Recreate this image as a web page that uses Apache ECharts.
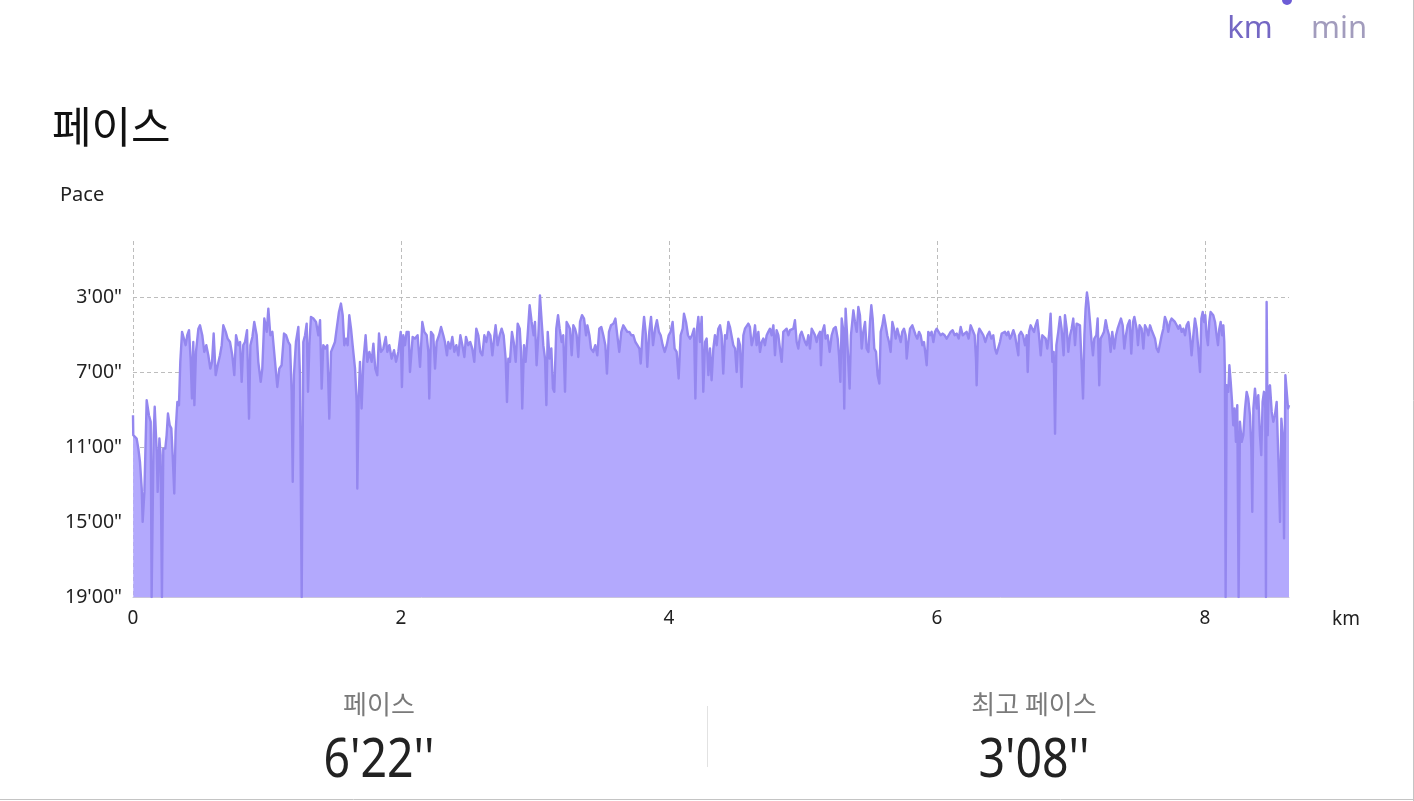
<!DOCTYPE html>
<html>
<head>
<meta charset="utf-8">
<script src="https://cdn.jsdelivr.net/npm/echarts@6/dist/echarts.min.js"></script>
<style>
html,body{margin:0;padding:0;background:#fff;}
#chart{width:1414px;height:801px;}
</style>
</head>
<body>
<div id="chart"></div>
<script>
// Pace samples: [distance km, pace in minutes per km]
var seg1 = [[0,9.30],[0.002,10.36],[0.027,10.54],[0.040,11.08],[0.052,11.79],[0.065,13.20],[0.072,14.99],[0.085,13.39],[0.102,8.50],[0.119,9.30],[0.132,9.65],[0.139,19.00],[0.147,19.00],[0.154,10.36],[0.162,8.85],[0.177,11.25],[0.184,13.39],[0.197,10.54],[0.206,11.43],[0.216,19.00],[0.226,11.08],[0.241,11.08],[0.251,10.36],[0.261,9.21],[0.274,9.83],[0.286,10.00],[0.296,11.43],[0.308,13.48],[0.318,10.19],[0.331,8.59],[0.343,8.76],[0.353,6.45],[0.366,4.85],[0.378,4.76],[0.393,5.56],[0.405,5.03],[0.418,4.76],[0.430,6.28],[0.440,8.41],[0.450,5.39],[0.458,8.76],[0.470,5.92],[0.488,4.68],[0.500,4.50],[0.517,5.03],[0.532,5.92],[0.547,5.56],[0.562,6.10],[0.577,6.81],[0.590,6.45],[0.602,4.94],[0.617,7.16],[0.632,6.63],[0.649,6.10],[0.662,5.56],[0.674,4.50],[0.692,4.85],[0.706,5.21],[0.724,5.39],[0.741,6.10],[0.756,7.16],[0.769,5.03],[0.786,5.56],[0.799,5.39],[0.811,7.52],[0.823,5.56],[0.836,5.39],[0.851,4.76],[0.866,9.48],[0.876,5.56],[0.891,5.12],[0.905,4.32],[0.923,5.03],[0.935,6.45],[0.953,7.52],[0.965,6.81],[0.980,4.14],[0.998,4.85],[1.010,3.61],[1.025,5.03],[1.040,4.85]];
var seg2 = [[1.052,4.76],[1.077,7.79],[1.092,6.81],[1.109,6.63],[1.127,4.94],[1.142,5.03],[1.159,5.39],[1.172,5.56],[1.184,8.05],[1.192,12.85],[1.201,7.16],[1.216,5.39],[1.234,4.59],[1.246,7.16],[1.259,19.00],[1.271,5.39],[1.284,5.03],[1.296,4.41],[1.306,8.05],[1.316,5.56],[1.328,4.05],[1.346,4.14],[1.366,4.32],[1.383,5.03],[1.396,4.23],[1.408,7.88],[1.420,5.56],[1.435,5.74],[1.450,5.56],[1.465,9.48],[1.478,5.92],[1.490,5.92],[1.507,5.39],[1.520,4.68],[1.537,3.79],[1.552,3.34],[1.565,3.96],[1.577,5.56],[1.590,5.21],[1.602,5.56],[1.614,3.96],[1.627,4.68],[1.639,5.56],[1.657,6.81],[1.669,8.59],[1.674,13.21],[1.684,8.41],[1.694,6.45],[1.706,8.94],[1.719,6.45],[1.736,5.03],[1.749,6.45],[1.764,5.92],[1.781,6.45],[1.794,5.48],[1.808,6.81],[1.823,7.16],[1.836,4.94],[1.851,5.92],[1.868,5.74],[1.886,5.12],[1.898,5.92],[1.913,5.56],[1.930,6.28],[1.948,5.83],[1.963,6.45],[1.980,5.92],[1.998,4.85],[2.007,7.79],[2.017,5.03],[2.030,5.56],[2.042,4.85],[2.057,4.85],[2.067,6.99],[2.087,5.12],[2.104,5.21]];
var seg3 = [[2.124,5.03],[2.142,6.72],[2.159,4.32],[2.174,4.85],[2.192,5.03],[2.204,5.92],[2.211,8.41],[2.224,4.85],[2.241,5.03],[2.254,6.81],[2.266,5.39],[2.284,5.03],[2.299,4.59],[2.316,5.03],[2.328,5.39],[2.343,6.10],[2.353,5.39],[2.368,5.74],[2.383,5.12],[2.398,5.92],[2.413,5.56],[2.428,6.10],[2.443,5.03],[2.458,5.56],[2.473,6.19],[2.485,5.12],[2.502,5.56],[2.517,5.39],[2.532,5.74],[2.547,6.45],[2.562,4.68],[2.577,5.03],[2.592,5.92],[2.607,6.10],[2.622,5.03],[2.637,5.39],[2.652,4.85],[2.667,5.03],[2.682,6.10],[2.697,5.03],[2.706,4.50],[2.721,5.56],[2.736,5.03],[2.751,4.68],[2.766,5.03],[2.781,6.28],[2.791,8.59],[2.801,6.28],[2.813,6.45],[2.828,4.85],[2.841,5.39],[2.856,6.45],[2.871,4.41],[2.886,4.68],[2.896,5.92],[2.905,8.94],[2.918,5.56],[2.930,6.45],[2.945,5.03],[2.960,3.43],[2.975,4.32],[2.990,5.03],[3.000,4.32],[3.012,6.63],[3.025,5.03],[3.037,2.90],[3.050,4.32],[3.062,5.56],[3.075,6.28],[3.085,8.76],[3.095,4.85],[3.109,6.28],[3.122,5.74],[3.134,7.88],[3.144,8.05],[3.159,4.68],[3.172,3.96],[3.184,4.68],[3.199,5.39]];
var seg4 = [[3.211,5.03],[3.224,8.05],[3.236,4.32],[3.249,4.50],[3.261,4.68],[3.274,6.10],[3.286,4.50],[3.299,4.68],[3.311,5.03],[3.323,6.19],[3.336,4.32],[3.351,3.96],[3.366,4.14],[3.381,5.03],[3.391,4.50],[3.406,5.03],[3.418,5.74],[3.435,5.92],[3.450,5.56],[3.465,6.10],[3.480,4.68],[3.495,4.59],[3.510,5.03],[3.525,5.56],[3.537,7.08],[3.552,4.85],[3.567,4.50],[3.585,4.41],[3.600,4.14],[3.614,5.03],[3.629,5.92],[3.644,4.85],[3.659,4.50],[3.674,4.68],[3.689,4.85],[3.704,4.85],[3.719,5.03],[3.734,5.03],[3.749,5.39],[3.764,5.56],[3.779,5.74],[3.789,6.54],[3.804,4.85],[3.814,4.05],[3.828,5.03],[3.838,6.72],[3.853,4.85],[3.866,4.05],[3.881,5.56],[3.896,4.68],[3.910,4.23],[3.925,4.85],[3.938,5.03],[3.953,5.56],[3.968,5.92],[3.983,5.56],[3.998,5.03],[4.012,4.85],[4.027,4.32],[4.042,5.74],[4.057,5.92],[4.072,7.34],[4.087,5.03],[4.102,4.68],[4.112,3.88],[4.127,4.32],[4.142,5.03],[4.157,5.21],[4.172,5.03],[4.187,4.68],[4.197,8.41],[4.207,4.85],[4.219,4.05],[4.231,5.39],[4.244,4.05],[4.256,8.05],[4.269,5.39]];
var seg5 = [[4.281,5.21],[4.294,7.16],[4.306,5.74],[4.318,7.43],[4.331,5.74],[4.343,5.03],[4.356,5.56],[4.368,4.68],[4.381,4.50],[4.393,5.03],[4.405,7.08],[4.418,5.03],[4.430,5.21],[4.443,4.32],[4.455,4.59],[4.468,4.68],[4.480,5.56],[4.493,5.74],[4.505,6.99],[4.517,5.21],[4.530,5.56],[4.542,7.79],[4.555,5.03],[4.567,4.68],[4.580,4.59],[4.592,4.41],[4.604,4.59],[4.617,5.56],[4.629,5.21],[4.642,4.50],[4.654,5.56],[4.667,4.85],[4.679,5.92],[4.692,5.39],[4.704,5.21],[4.716,5.56],[4.729,5.03],[4.741,4.85],[4.754,4.68],[4.766,5.03],[4.779,4.50],[4.791,6.10],[4.803,4.76],[4.816,5.03],[4.828,5.74],[4.841,6.45],[4.853,4.85],[4.866,4.85],[4.878,4.68],[4.891,5.03],[4.903,4.76],[4.915,4.85],[4.928,4.68],[4.940,4.23],[4.953,5.39],[4.965,5.74],[4.978,5.03],[4.990,4.85],[5.002,4.76],[5.015,5.39],[5.027,5.56],[5.040,5.03],[5.052,5.74],[5.065,4.68],[5.077,4.85],[5.090,5.03],[5.102,5.39],[5.114,5.03],[5.127,4.85],[5.134,6.63],[5.144,4.85],[5.159,4.50],[5.169,5.21],[5.184,5.03],[5.199,5.92],[5.214,5.03],[5.229,4.68],[5.244,4.59],[5.259,5.21],[5.269,6.10],[5.279,7.52],[5.289,4.14],[5.299,4.68],[5.308,8.94],[5.318,3.61],[5.328,4.85],[5.338,6.45],[5.348,7.88],[5.358,5.03]];
var seg6 = [[5.376,3.70],[5.388,4.32],[5.401,4.85],[5.413,3.52],[5.425,3.96],[5.438,5.74],[5.450,4.85],[5.463,4.32],[5.475,5.74],[5.488,5.92],[5.500,4.32],[5.510,3.43],[5.520,4.14],[5.532,5.74],[5.545,5.92],[5.557,7.16],[5.570,7.61],[5.580,4.85],[5.592,4.50],[5.604,3.96],[5.617,4.50],[5.629,5.03],[5.642,5.39],[5.654,5.92],[5.667,4.32],[5.679,4.68],[5.692,5.21],[5.704,4.68],[5.716,5.03],[5.729,5.39],[5.741,4.85],[5.754,4.68],[5.766,5.03],[5.774,6.28],[5.786,5.39],[5.799,4.68],[5.816,4.50],[5.828,4.41],[5.841,5.03],[5.853,5.21],[5.866,4.85],[5.878,5.03],[5.891,5.56],[5.903,5.39],[5.915,6.10],[5.923,6.63],[5.935,4.85],[5.948,5.03],[5.960,4.85],[5.973,5.39],[5.985,4.85],[5.998,4.68],[6.012,4.85],[6.027,5.03],[6.042,4.94],[6.057,5.03],[6.072,5.21],[6.087,5.03],[6.102,4.85],[6.117,4.76],[6.132,5.03],[6.147,4.94],[6.162,5.21],[6.177,4.59],[6.192,5.03],[6.206,5.03],[6.221,4.85],[6.236,5.21],[6.251,4.50],[6.266,4.76],[6.281,5.03],[6.291,6.28],[6.296,7.70],[6.306,5.03],[6.316,4.68],[6.331,4.85],[6.346,5.03],[6.361,5.39],[6.376,5.03],[6.391,4.85],[6.406,5.21],[6.420,5.03]];
var seg7 = [[6.433,5.74],[6.445,6.01],[6.458,5.92],[6.470,5.39],[6.483,4.94],[6.495,5.03],[6.507,4.85],[6.520,5.03],[6.532,4.85],[6.545,5.21],[6.557,5.03],[6.570,4.76],[6.582,5.03],[6.595,5.03],[6.607,6.10],[6.612,5.03],[6.627,4.85],[6.642,5.03],[6.657,5.56],[6.669,5.03],[6.677,6.99],[6.687,4.85],[6.699,4.50],[6.711,4.68],[6.724,4.85],[6.736,4.50],[6.749,4.23],[6.761,5.03],[6.774,6.10],[6.786,5.03],[6.799,4.94],[6.811,5.21],[6.823,5.74],[6.836,5.03],[6.848,3.88],[6.861,6.45],[6.871,5.92],[6.881,10.28],[6.891,5.56],[6.905,4.85],[6.918,4.05],[6.930,4.68],[6.945,6.10],[6.955,3.96],[6.968,4.68],[6.980,5.92],[6.993,5.03],[7.005,4.68],[7.017,4.14],[7.030,5.56],[7.042,4.41],[7.055,4.50],[7.067,4.50],[7.080,4.50],[7.090,8.41],[7.100,5.03],[7.109,3.61],[7.119,2.75],[7.129,3.25],[7.142,4.32],[7.154,5.39],[7.164,6.10],[7.174,5.21],[7.189,5.03],[7.199,4.14],[7.211,7.70],[7.221,5.21],[7.234,5.03],[7.246,4.85],[7.259,4.23],[7.271,4.68],[7.284,5.03],[7.296,5.92],[7.308,4.85],[7.323,5.74],[7.336,5.03],[7.348,4.68],[7.361,4.59],[7.373,4.14],[7.386,4.50],[7.398,5.74],[7.410,5.03],[7.423,4.50],[7.438,4.23],[7.450,6.01],[7.463,4.32],[7.473,4.05],[7.490,4.68],[7.500,5.56],[7.512,4.50]];
var seg8 = [[7.527,4.68],[7.540,5.74],[7.552,4.50],[7.565,4.68],[7.577,5.03],[7.590,4.50],[7.602,4.76],[7.614,4.68],[7.627,5.21],[7.639,5.74],[7.652,5.92],[7.664,5.83],[7.677,5.03],[7.689,4.68],[7.701,4.05],[7.714,4.32],[7.726,4.85],[7.739,4.32],[7.751,4.14],[7.764,4.05],[7.776,4.32],[7.789,4.50],[7.801,4.68],[7.813,4.50],[7.826,4.85],[7.838,4.68],[7.851,5.03],[7.863,4.50],[7.876,4.32],[7.888,5.03],[7.900,6.10],[7.913,5.03],[7.925,4.14],[7.938,4.68],[7.950,5.74],[7.963,6.99],[7.973,4.14],[7.983,3.79],[7.993,4.32],[8.002,3.96],[8.012,5.03],[8.022,5.56],[8.032,4.32],[8.042,3.79],[8.052,3.79],[8.062,3.96],[8.075,4.32],[8.087,5.03],[8.097,5.56],[8.107,4.68],[8.117,4.32],[8.127,5.03],[8.137,4.50],[8.144,5.39],[8.149,7.16],[8.154,19.00],[8.162,7.70],[8.174,8.05],[8.182,6.63],[8.192,7.52],[8.202,8.59],[8.211,9.83],[8.221,8.94],[8.231,10.72],[8.241,8.76],[8.251,19.00],[8.261,9.65],[8.274,10.72],[8.286,10.36],[8.299,8.94],[8.311,8.05],[8.323,8.41],[8.336,9.30],[8.346,11.08],[8.353,14.45],[8.361,8.94],[8.373,7.88],[8.386,8.94],[8.398,8.23],[8.410,10.36],[8.420,11.43],[8.430,8.59],[8.440,8.05],[8.450,8.94],[8.455,19.00],[8.460,3.25],[8.468,10.36],[8.475,7.88],[8.485,7.70],[8.498,9.12],[8.510,9.65],[8.522,9.30],[8.535,8.59],[8.542,10.36],[8.550,12.14],[8.560,14.99],[8.570,9.48],[8.580,10.36],[8.590,15.87],[8.600,7.16],[8.610,7.16],[8.620,8.94],[8.627,8.76]];

var xTicks = [0, 2, 4, 6, 8];
var paceTicks = [3, 7, 11, 15, 19];   // minutes, shown as m'00"
var paceSlowest = 19;                 // bottom of the pace axis (minutes)
var avgPace = "6'22''";
var bestPace = "3'08''";

var samples = [].concat(seg1, seg2, seg3, seg4, seg5, seg6, seg7, seg8);
// The pace axis is drawn slowest at the bottom: plot value = slowest - pace
var plotData = samples.map(function (p) { return [p[0], paceSlowest - p[1]]; });
var maxKm = samples[samples.length - 1][0];

var chart = echarts.init(document.getElementById('chart'), null, {renderer: 'canvas'});
var latin = '"Noto Sans", Roboto, sans-serif';
var kr = '"Noto Sans CJK KR", "Noto Sans", sans-serif';

chart.setOption({
  animation: false,
  backgroundColor: '#ffffff',
  grid: {left: 133, right: 125, top: 241, bottom: 204, containLabel: false},
  xAxis: {
    type: 'value', min: 0, max: maxKm, interval: 2,
    axisLine: {show: true, lineStyle: {color: '#c9c5dc', width: 1}},
    axisTick: {show: false},
    axisLabel: {
      color: '#222', fontSize: 19, fontFamily: latin, margin: 12,
      showMaxLabel: false,
      formatter: function (v) { return xTicks.indexOf(v) >= 0 ? String(v) : ''; }
    },
    splitLine: {show: true, showMaxLine: false, lineStyle: {color: '#bdbdbd', type: [4, 3], width: 1}}
  },
  yAxis: {
    type: 'value', min: 0, max: paceSlowest, interval: 4,
    axisLine: {show: false},
    axisTick: {show: false},
    axisLabel: {
      color: '#222', fontSize: 19.5, fontFamily: latin, margin: 11,
      showMaxLabel: false,
      formatter: function (v) {
        var m = paceSlowest - v;
        return paceTicks.indexOf(m) >= 0 ? m + "'00\"" : '';
      }
    },
    splitLine: {show: true, showMinLine: false, showMaxLine: false, lineStyle: {color: '#bdbdbd', type: [4, 3], width: 1}}
  },
  series: [{
    type: 'line',
    data: plotData,
    symbol: 'none',
    smooth: false,
    sampling: null,
    lineStyle: {color: '#9487ef', width: 2.4, join: 'round'},
    areaStyle: {color: '#b3a9fd', opacity: 1, origin: 'start'},
    z: 1
  }],
  graphic: [
    {type: 'text', x: 52, y: 127, style: {text: '페이스', font: '400 43px ' + kr, fill: '#111', textVerticalAlign: 'middle'}},
    {type: 'text', x: 60, y: 195, style: {text: 'Pace', font: '400 20px ' + latin, fill: '#222', textVerticalAlign: 'middle'}},
    {type: 'circle', shape: {cx: 1287, cy: 0, r: 5}, style: {fill: '#6c5cd6'}},
    {type: 'text', x: 1250, y: 29, style: {text: 'km', font: '400 31px ' + latin, fill: '#7467c4', textAlign: 'center', textVerticalAlign: 'middle'}},
    {type: 'text', x: 1339, y: 29, style: {text: 'min', font: '400 31px ' + latin, fill: '#a29cbd', textAlign: 'center', textVerticalAlign: 'middle'}},
    {type: 'text', x: 1332, y: 620, style: {text: 'km', font: '400 19px ' + latin, fill: '#222', textVerticalAlign: 'middle'}},
    {type: 'text', x: 379, y: 704, style: {text: '페이스', font: '400 26px ' + kr, fill: '#7a7a7a', textAlign: 'center', textVerticalAlign: 'middle'}},
    {type: 'text', x: 1034, y: 704, style: {text: '최고 페이스', font: '400 26px ' + kr, fill: '#7a7a7a', textAlign: 'center', textVerticalAlign: 'middle'}},
    {type: 'text', x: 379, y: 762, scaleX: 0.86, style: {text: avgPace, font: '400 54px ' + latin, fill: '#222', textAlign: 'center', textVerticalAlign: 'middle'}},
    {type: 'text', x: 1034, y: 762, scaleX: 0.86, style: {text: bestPace, font: '400 54px ' + latin, fill: '#222', textAlign: 'center', textVerticalAlign: 'middle'}},
    {type: 'line', shape: {x1: 707.5, y1: 706, x2: 707.5, y2: 767}, style: {stroke: '#e2e2e2', lineWidth: 1}},
    {type: 'line', shape: {x1: 1413.5, y1: 0, x2: 1413.5, y2: 801}, style: {stroke: '#c4c4c4', lineWidth: 1}},
    {type: 'line', shape: {x1: 0, y1: 799.5, x2: 1414, y2: 799.5}, style: {stroke: '#c4c4c4', lineWidth: 1}}
  ]
});
</script>
</body>
</html>
